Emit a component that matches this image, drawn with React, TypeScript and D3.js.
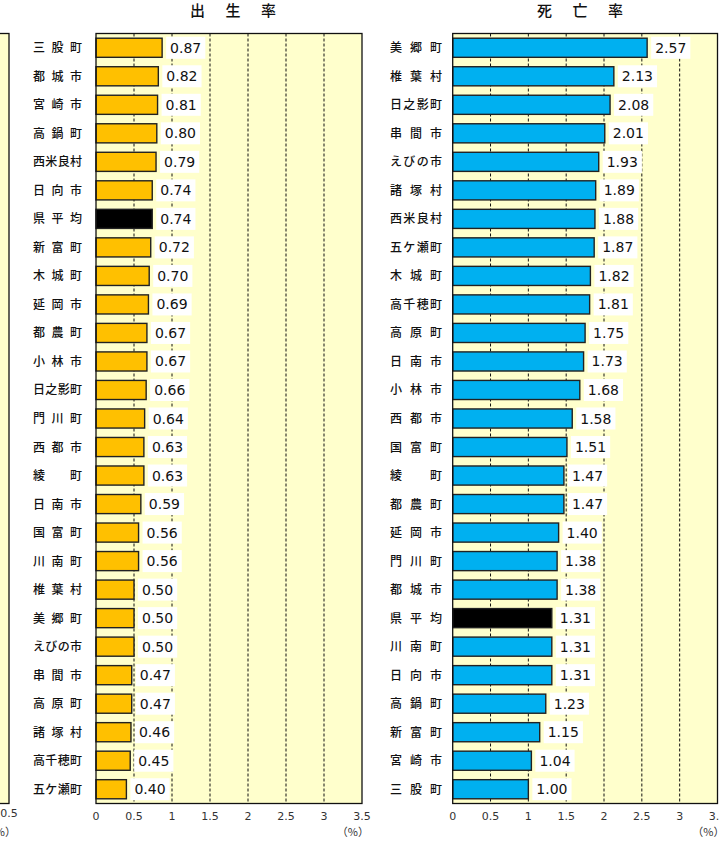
import React from "react";
import * as d3 from "d3";

const birthNames = ["三股町","都城市","宮崎市","高鍋町","西米良村","日向市","県平均","新富町","木城町","延岡市","都農町","小林市","日之影町","門川町","西都市","綾町","日南市","国富町","川南町","椎葉村","美郷町","えびの市","串間市","高原町","諸塚村","高千穂町","五ケ瀬町"];
const birthValues = [0.87,0.82,0.81,0.80,0.79,0.74,0.74,0.72,0.70,0.69,0.67,0.67,0.66,0.64,0.63,0.63,0.59,0.56,0.56,0.50,0.50,0.50,0.47,0.47,0.46,0.45,0.40];

const deathNames = ["美郷町","椎葉村","日之影町","串間市","えびの市","諸塚村","西米良村","五ケ瀬町","木城町","高千穂町","高原町","日南市","小林市","西都市","国富町","綾町","都農町","延岡市","門川町","都城市","県平均","川南町","日向市","高鍋町","新富町","宮崎市","三股町"];
const deathValues = [2.57,2.13,2.08,2.01,1.93,1.89,1.88,1.87,1.82,1.81,1.75,1.73,1.68,1.58,1.51,1.47,1.47,1.40,1.38,1.38,1.31,1.31,1.31,1.23,1.15,1.04,1.00];

const xTicks = [0, 0.5, 1, 1.5, 2, 2.5, 3, 3.5];
const gridTicks = [0.5, 1, 1.5, 2, 2.5, 3];
const titles = ["出 生 率", "死 亡 率"];
const unitLabel = "（%）";
const avgName = "県平均";

const TOP = 33.5;
const BOTTOM = 803.5;
const BG = "#FFFFCC";
const NUM_FONT = "'DejaVu Sans', Verdana, sans-serif";
const JP_FONT = "'Noto Sans CJK JP', sans-serif";

function Panel({ names, values, left, right, color, title, titleX, labelRight, labelWidth }: any) {
  const x = d3.scaleLinear().domain([0, 3.5]).range([left, right]);
  const y = d3.scaleBand<string>().domain(names).range([TOP, BOTTOM]).paddingInner(0.33).paddingOuter(0.165);
  const bw = y.bandwidth();
  const fmt = d3.format(".2f");
  return (
    <g>
      <text x={titleX} y={16} textAnchor="middle" fontFamily={JP_FONT} fontSize={15} fontWeight={500} fill="#111" textLength={86} lengthAdjust="spacing">{title}</text>
      <rect x={left} y={TOP} width={right - left} height={BOTTOM - TOP} fill={BG} />
      {gridTicks.map((t) => (
        <line key={t} x1={x(t)} x2={x(t)} y1={TOP} y2={BOTTOM} stroke="#111" strokeWidth={1} strokeDasharray="3,2" />
      ))}
      {names.map((n: string, i: number) => {
        const yy = y(n)!;
        const xe = x(values[i]);
        const label = fmt(values[i]);
        const tw = 31.2;
        return (
          <g key={n}>
            <rect x={x(0)} y={yy} width={xe - x(0)} height={bw} fill={n === avgName ? "#000" : color} stroke="#222" strokeWidth={1.4} />
            <rect x={xe + 4} y={yy + bw / 2 - 11} width={tw + 8} height={22} fill="#fff" />
            <text x={xe + 8} y={yy + bw / 2 + 5} fontFamily={NUM_FONT} fontSize={14} fill="#111">{label}</text>
            <text x={labelRight} y={yy + bw / 2 + 4.5} textAnchor="end" fontFamily={JP_FONT} fontSize={12} fontWeight={500} fill="#111" textLength={labelWidth} lengthAdjust="spacing">{n}</text>
          </g>
        );
      })}
      <rect x={left} y={TOP} width={right - left} height={BOTTOM - TOP} fill="none" stroke="#111" strokeWidth={1.3} />
      {xTicks.map((t) => (
        <text key={t} x={x(t)} y={820} textAnchor="middle" fontFamily={NUM_FONT} fontSize={11} fill="#333">{String(t)}</text>
      ))}
      <text x={right + 7} y={836} textAnchor="end" fontFamily={JP_FONT} fontSize={11} fill="#333">{unitLabel}</text>
    </g>
  );
}

export default function App() {
  return (
    <svg width={719} height={843} style={{ position: "absolute", left: 0, top: 0, background: "#fff" }}>
      <rect x={-200} y={TOP} width={209} height={BOTTOM - TOP} fill={BG} stroke="#111" strokeWidth={1.3} />
      <text x={9} y={817} textAnchor="middle" fontFamily={NUM_FONT} fontSize={11} fill="#333">0.5</text>
      <text x={16} y={836} textAnchor="end" fontFamily={JP_FONT} fontSize={11} fill="#333">{unitLabel}</text>
      <Panel names={birthNames} values={birthValues} left={96} right={362} color="#FFC000" title={titles[0]} titleX={233} labelRight={82} labelWidth={49} />
      <Panel names={deathNames} values={deathValues} left={452.7} right={717.5} color="#00B0F0" title={titles[1]} titleX={580} labelRight={442} labelWidth={52} />
    </svg>
  );
}
